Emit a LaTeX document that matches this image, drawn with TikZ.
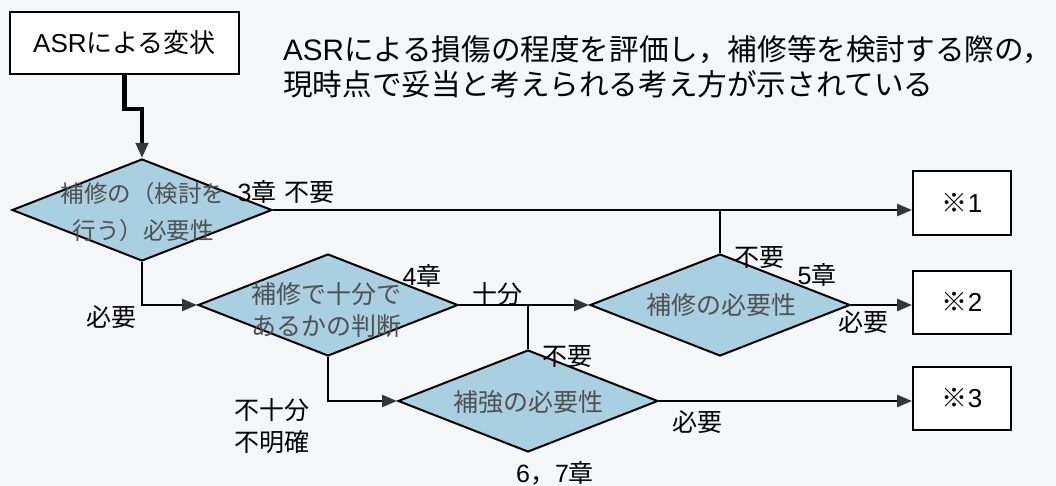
\documentclass[tikz,border=0pt]{standalone}
\usepackage{fontspec}
\setmainfont{Noto Sans CJK JP}
\newfontfamily\lat{Liberation Sans}
\usetikzlibrary{shapes.geometric,arrows.meta}
\definecolor{bgc}{RGB}{244,246,248}
\definecolor{dfill}{RGB}{168,208,224}
\definecolor{dtext}{RGB}{80,80,80}
\definecolor{arr}{RGB}{50,56,56}
\begin{document}
\begin{tikzpicture}[x=1pt,y=-1pt,
  box/.style={draw=black,line width=2pt,fill=white,minimum width=98pt,minimum height=63pt,inner sep=0pt,font=\fontsize{26}{30}\selectfont},
  dia/.style={diamond,draw=black,line width=2pt,fill=dfill,minimum width=260pt,minimum height=102pt,inner sep=0pt},
  dtxt/.style={text=dtext,align=center,font=\fontsize{25}{32}\selectfont,inner sep=0pt},
  lbl/.style={font=\fontsize{25}{32}\selectfont,inner sep=0pt,align=center},
  conn/.style={line width=2.6pt},
  arrow/.style={conn,-{Triangle[length=15pt,width=12pt,color=arr]}},
  title/.style={anchor=west,inner sep=0pt,font=\fontsize{29.6}{33}\selectfont}
]
\fill[bgc] (0,0) rectangle (1056,486);
\useasboundingbox (0,0) rectangle (1056,486);

% title text
\node[title] (t1) at (283,50) {{\lat ASR}による損傷の程度を評価し，補修等を検討する際の，};
\node[title] (t2) at (283,84) {現時点で妥当と考えられる考え方が示されている};

% boxes
\node[box,minimum width=229pt,minimum height=62pt] (asr) at (124.5,43) {{\lat ASR}による変状};
\node[box] (b1) at (962,203) {※{\lat 1}};
\node[box] (b2) at (962,302) {※{\lat 2}};
\node[box] (b3) at (962,398) {※{\lat 3}};

% diamonds
\node[dia] (d1) at (142,210) {};
\node[dtxt,font=\fontsize{23.5}{37}\selectfont] (d1t) at (143,212) {補修の（検討を\\行う）必要性};
\node[dia] (d2) at (328,305) {};
\node[dtxt] (d2t) at (326,310) {補修で十分で\\あるかの判断};
\node[dia] (d3) at (720,305) {};
\node[dtxt] (d3t) at (721,305) {補修の必要性};
\node[dia] (d4) at (528,401) {};
\node[dtxt] (d4t) at (528,402) {補強の必要性};

% connectors
\draw[arrow,line width=4.5pt] (asr.south) -- ++(0,34) -| (d1.north);
\draw[arrow] (d1.east) -- (d1.east -| b1.west);
\coordinate (j1) at (d3.north |- d1.east);
\draw[conn] (d3.north) -- (j1);
\draw[arrow] (d1.south) |- (d2.west);
\draw[arrow] (d2.east) -- (d3.west);
\coordinate (j2) at (d4.north |- d2.east);
\draw[conn] (d4.north) -- (j2);
\draw[arrow] (d2.south) |- (d4.west);
\draw[arrow] (d3.east) -- (d3.east -| b2.west);
\draw[arrow] (d4.east) -- (d4.east -| b3.west);

% labels
\node[lbl] (l1) at (286,192) {{\lat 3}章\hspace{8pt}不要};
\node[lbl] (l2) at (111,317) {必要};
\node[lbl] (l3) at (422,276) {{\lat 4}章};
\node[lbl] (l4) at (497,294) {十分};
\node[lbl] (l5) at (272,426) {不十分\\不明確};
\node[lbl] (l6) at (567,357) {不要};
\node[lbl] (l7) at (697,422) {必要};
\node[lbl] (l8) at (555,473) {{\lat 6}，{\lat 7}章};
\node[lbl] (l9) at (759,258) {不要};
\node[lbl] (l10) at (817,275) {{\lat 5}章};
\node[lbl] (l11) at (863,322) {必要};
\end{tikzpicture}
\end{document}
